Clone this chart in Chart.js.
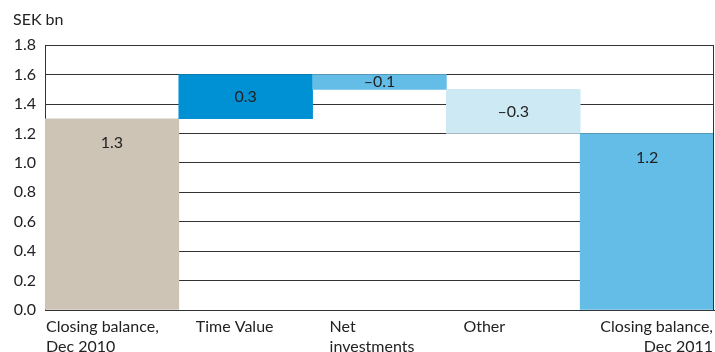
<!DOCTYPE html>
<html>
<head>
<meta charset="utf-8">
<script src="https://cdn.jsdelivr.net/npm/chart.js@4.4.1/dist/chart.umd.min.js"></script>
<style>
  html, body { margin: 0; padding: 0; background: #fff; }
  #wrap { width: 715px; height: 352px; }
</style>
</head>
<body>
<div id="wrap"><canvas id="waterfall"></canvas></div>
<script>
// categories and changes (SEK bn)
const categories = [
    ['Closing balance,', 'Dec 2010'],
    ['Time Value'],
    ['Net', 'investments'],
    ['Other'],
    ['Closing balance,', 'Dec 2011']
];
const changes = [1.3, 0.3, -0.1, -0.3, 1.2];
const isTotal = [true, false, false, false, true];
const valueLabels = ['1.3', '0.3', '\u20130.1', '\u20130.3', '1.2'];
const yTicks = [0, 0.2, 0.4, 0.6, 0.8, 1.0, 1.2, 1.4, 1.6, 1.8];

const barColors = [
    'rgb(206, 196, 181)',  // tan
    'rgb(0, 144, 212)',    // dark blue
    'rgb(99, 189, 230)',   // mid blue
    'rgb(205, 233, 244)',  // light blue
    'rgb(99, 189, 230)'    // mid blue
];

const FONT = 'Lato, "Open Sans", sans-serif';
const FS = 16;

// build floating bars from the running total
let running = 0;
const floating = changes.map((c, i) => {
    if (isTotal[i]) { running = c; return [0, c]; }
    const start = running;
    running = +(running + c).toFixed(2);
    return [Math.min(start, running), Math.max(start, running)];
});

// draws the value labels, the x labels and the right border
const extras = {
    id: 'extras',
    afterDatasetsDraw(chart) {
        const ctx = chart.ctx;
        const area = chart.chartArea;
        const meta = chart.getDatasetMeta(0);
        ctx.save();
        ctx.fillStyle = '#222';
        ctx.font = FS + 'px ' + FONT;
        ctx.textAlign = 'center';
        ctx.textBaseline = 'middle';
        meta.data.forEach((bar, i) => {
            const top = Math.min(bar.y, bar.base);
            const h = Math.abs(bar.base - bar.y);
            const off = Math.min(h / 2, 24);
            ctx.fillText(valueLabels[i], bar.x, top + off);
        });

        // right border
        ctx.strokeStyle = '#333';
        ctx.lineWidth = 1;
        ctx.beginPath();
        ctx.moveTo(Math.round(area.right) - 0.5, area.top);
        ctx.lineTo(Math.round(area.right) - 0.5, area.bottom);
        ctx.stroke();

        // x labels
        const step = (area.right - area.left) / categories.length;
        categories.forEach((lines, i) => {
            let x, align;
            if (i === 0) { x = area.left + 1; align = 'left'; }
            else if (i === categories.length - 1) { x = area.right - 1; align = 'right'; }
            else { x = area.left + step * i + 17; align = 'left'; }
            ctx.textAlign = align;
            lines.forEach((t, k) => ctx.fillText(t, x, area.bottom + 17 + k * 20));
        });
        ctx.restore();
    }
};

const ctx = document.getElementById('waterfall').getContext('2d');
new Chart(ctx, {
    type: 'bar',
    data: {
        labels: categories,
        datasets: [{
            data: floating,
            backgroundColor: barColors,
            borderWidth: 0,
            borderSkipped: false,
            barPercentage: 1.0,
            categoryPercentage: 1.0
        }]
    },
    options: {
        responsive: true,
        maintainAspectRatio: false,
        animation: false,
        layout: { padding: { left: 13, right: 1, top: 0, bottom: 34 } },
        plugins: {
            legend: { display: false },
            tooltip: { enabled: false },
            title: {
                display: true,
                text: 'SEK bn',
                align: 'start',
                color: '#222',
                font: { family: FONT, size: FS, weight: 'normal' },
                padding: { top: 10, bottom: 16 }
            }
        },
        scales: {
            x: {
                grid: { display: false },
                border: { display: true, color: '#333' },
                ticks: { display: false }
            },
            y: {
                min: 0,
                max: 1.8,
                afterBuildTicks(scale) {
                    scale.ticks = yTicks.map(v => ({ value: v }));
                },
                afterFit(scale) { scale.width = 32; },
                grid: { color: '#333', lineWidth: 1, drawTicks: false },
                border: { display: true, color: '#333' },
                ticks: {
                    color: '#222',
                    padding: 9,
                    font: { family: FONT, size: FS },
                    callback: v => v.toFixed(1)
                }
            }
        }
    },
    plugins: [extras]
});
</script>
</body>
</html>
